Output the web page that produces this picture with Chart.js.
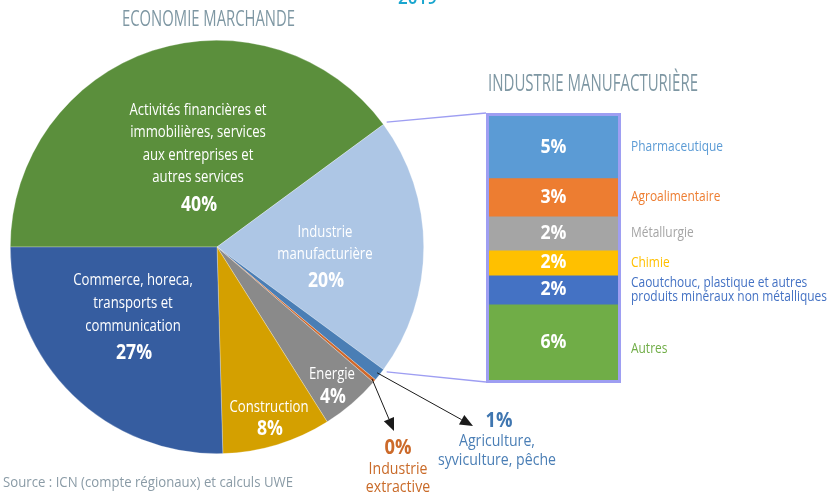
<!DOCTYPE html>
<html><head><meta charset="utf-8">
<script src="https://cdn.jsdelivr.net/npm/chart.js@4"></script>
<style>body{margin:0;background:#fff}#wrap{position:relative;width:830px;height:495px}canvas{position:absolute;left:0;top:0}</style>
</head><body>
<div id="wrap"><canvas id="pie" width="830" height="495"></canvas><canvas id="bar" width="830" height="495"></canvas></div>
<script>
// ---- data ----
const pieCategories = ['Activités financières et immobilières, services aux entreprises et autres services','Industrie manufacturière','Agriculture, syviculture, pêche','Industrie extractive','Energie','Construction','Commerce, horeca, transports et communication'];
const pieValues = [39.9, 20.2, 1.0, 0.25, 4.7, 8.5, 25.45];
const pieLabels = ['40%','20%','1%','0%','4%','8%','27%'];
const barCategories = ['Pharmaceutique','Agroalimentaire','Métallurgie','Chimie','Caoutchouc, plastique et autres produits minéraux non métalliques','Autres'];
const barValues = [4.7, 2.88, 2.58, 1.89, 2.2, 5.75];
const barLabels = ['5%','3%','2%','2%','2%','6%'];

const pieColors = ['#5B8F3C','#ADC6E5','#4A7EB5','#D0682A','#8A8A8A','#D4A000','#365DA0'];
const barColors = ['#5B9BD5','#ED7D31','#A5A5A5','#FFC000','#4472C4','#70AD47'];
const FF = '"Open Sans", "Noto Sans", sans-serif';

function txt(ctx, s, x, y, font, color, align, sx, base) {
  ctx.save(); ctx.font = font; ctx.fillStyle = color; ctx.textBaseline = base || 'middle'; ctx.textAlign = 'left';
  const w = ctx.measureText(s).width * sx;
  const x0 = align === 'center' ? x - w / 2 : align === 'right' ? x - w : x;
  ctx.translate(x0, y); ctx.scale(sx, 1); ctx.fillText(s, 0, 0); ctx.restore();
}
function fit(ctx, s, font, target) { ctx.save(); ctx.font = font; const w = ctx.measureText(s).width; ctx.restore(); return target / w; }
function arrow(ctx, x1, y1, x2, y2) {
  const a = Math.atan2(y2 - y1, x2 - x1), L = 13, W = 5.5;
  ctx.save(); ctx.strokeStyle = '#1a1a1a'; ctx.fillStyle = '#1a1a1a'; ctx.lineWidth = 1;
  ctx.beginPath(); ctx.moveTo(x1, y1); ctx.lineTo(x2 - Math.cos(a) * L, y2 - Math.sin(a) * L); ctx.stroke();
  ctx.beginPath(); ctx.moveTo(x2, y2);
  ctx.lineTo(x2 - Math.cos(a) * L - Math.sin(a) * W, y2 - Math.sin(a) * L + Math.cos(a) * W);
  ctx.lineTo(x2 - Math.cos(a) * L + Math.sin(a) * W, y2 - Math.sin(a) * L - Math.cos(a) * W);
  ctx.closePath(); ctx.fill(); ctx.restore();
}

const pieText = {
  id: 'pieText',
  afterDraw(chart) {
    const ctx = chart.ctx;
    const arcs = chart.getDatasetMeta(0).data;
    const cx = arcs[0].x, cy = arcs[0].y;
    const fLab = '17px ' + FF, fPct = 'bold 22px ' + FF;
    const sLab = fit(ctx, 'Activités financières et', fLab, 137);
    const sPct = fit(ctx, '40%', fPct, 36);
    const blocks = [
      {i: 0, dx: -19, lines: ['Activités financières et', 'immobilières, services', 'aux entreprises et', 'autres services'], y0: -137, gap: 22.4, pg: 28},
      {i: 1, dx: 108, lines: ['Industrie', 'manufacturière'], y0: -15, gap: 22, pg: 27},
      {i: 6, dx: -84, lines: ['Commerce, horeca,', 'transports et', 'communication'], y0: 33, gap: 23, pg: 27},
      {i: 5, dx: 52, lines: ['Construction'], y0: 160, gap: 22, pg: 22},
      {i: 4, dx: 115, lines: ['Energie'], y0: 127, gap: 22, pg: 23}
    ];
    blocks.forEach(b => {
      let y = cy + b.y0;
      b.lines.forEach((l, k) => { if (k) y += b.gap; txt(ctx, l, cx + b.dx, y, fLab, '#ffffff', 'center', sLab); });
      y += b.pg;
      txt(ctx, pieLabels[b.i], cx + b.dx + 1, y, fPct, '#ffffff', 'center', sPct);
    });
    // titles
    const fT = '22px ' + FF;
    txt(ctx, 'ECONOMIE MARCHANDE', 122, 20, fT, '#7E97A3', 'left', fit(ctx, 'ECONOMIE MARCHANDE', fT, 173));
    const fT2 = '23px ' + FF;
    txt(ctx, 'INDUSTRIE MANUFACTURIÈRE', 488, 84, fT2, '#7E97A3', 'left', fit(ctx, 'INDUSTRIE MANUFACTURIÈRE', fT2, 210));
    const fY = '600 19px ' + FF;
    txt(ctx, '2019', 398, 3.5, fY, '#1AA6CF', 'left', fit(ctx, '2019', fY, 39), 'alphabetic');
    const fS = '15px ' + FF;
    txt(ctx, 'Source : ICN (compte régionaux) et calculs UWE', 3, 483, fS, '#8A9BA6', 'left', fit(ctx, 'Source : ICN (compte régionaux) et calculs UWE', fS, 290));
    // arrows from small slices
    const pt = (a, f) => { const m = (a.startAngle + a.endAngle) / 2; const r = a.outerRadius * f; return [a.x + Math.cos(m) * r, a.y + Math.sin(m) * r]; };
    const pA = pt(arcs[2], 0.985), pE = pt(arcs[3], 0.985);
    arrow(ctx, pA[0], pA[1], 473, 426);
    arrow(ctx, pE[0], pE[1], 394, 431);
    const fA = '16px ' + FF, sA = fit(ctx, 'syviculture, pêche', fA, 118);
    const fAP = 'bold 21px ' + FF, sAP = fit(ctx, '1%', fAP, 27);
    txt(ctx, pieLabels[2], 499, 421, fAP, '#3F76B0', 'center', sAP);
    txt(ctx, 'Agriculture,', 497, 441, fA, '#4A7EB5', 'center', sA);
    txt(ctx, 'syviculture, pêche', 497, 460, fA, '#4A7EB5', 'center', sA);
    txt(ctx, pieLabels[3], 398, 448, fAP, '#CC6A2A', 'center', sAP);
    txt(ctx, 'Industrie', 398, 469, fA, '#C96A28', 'center', sA);
    txt(ctx, 'extractive', 398, 487, fA, '#C96A28', 'center', sA);
  }
};

const pieChart = new Chart(document.getElementById('pie'), {
  type: 'pie',
  data: { labels: pieCategories, datasets: [{ data: pieValues, backgroundColor: pieColors, borderWidth: 0.6, borderColor: 'rgba(255,255,255,0.45)' }] },
  options: {
    responsive: false, animation: false, rotation: -90,
    layout: { padding: { left: 10, right: 406, top: 40, bottom: 41 } },
    plugins: { legend: { display: false }, tooltip: { enabled: false } }
  },
  plugins: [pieText]
});

const barText = {
  id: 'barText',
  beforeDatasetsDraw(chart) {
    const ctx = chart.ctx, a = chart.chartArea;
    // connectors from the manufacturing slice to the bar
    const arcs = pieChart.getDatasetMeta(0).data;
    const m = arcs[1], r = m.outerRadius + 4;
    ctx.save(); ctx.strokeStyle = '#9E9EF2'; ctx.lineWidth = 1.3;
    ctx.beginPath(); ctx.moveTo(m.x + Math.cos(m.startAngle) * r, m.y + Math.sin(m.startAngle) * r); ctx.lineTo(a.left - 3, a.top - 3);
    ctx.moveTo(m.x + Math.cos(m.endAngle) * r, m.y + Math.sin(m.endAngle) * r); ctx.lineTo(a.left - 3, a.bottom + 2); ctx.stroke();
    ctx.restore();
  },
  afterDraw(chart) {
    const ctx = chart.ctx, a = chart.chartArea;
    ctx.save(); ctx.strokeStyle = '#9E9EF2'; ctx.lineWidth = 3;
    ctx.strokeRect(a.left - 1.5, a.top - 1.5, a.right - a.left + 3, a.bottom - a.top + 3); ctx.restore();
    const fP = 'bold 20px ' + FF, sP = fit(ctx, '5%', fP, 26);
    const fL = '14px ' + FF, sL = fit(ctx, 'produits minéraux non métalliques', fL, 196);
    const cx = (a.left + a.right) / 2;
    barCategories.forEach((c, i) => {
      const el = chart.getDatasetMeta(i).data[0];
      const yc = (el.y + el.base) / 2;
      txt(ctx, barLabels[i], cx, yc, fP, '#ffffff', 'center', sP);
      if (i === 4) {
        txt(ctx, 'Caoutchouc, plastique et autres', 631, yc - 7, fL, barColors[i], 'left', sL);
        txt(ctx, 'produits minéraux non métalliques', 631, yc + 7, fL, barColors[i], 'left', sL);
      } else {
        txt(ctx, c, 631, yc + (i === 5 ? 7 : 0), fL, barColors[i], 'left', sL);
      }
    });
  }
};

new Chart(document.getElementById('bar'), {
  type: 'bar',
  data: {
    labels: ['Industrie manufacturière'],
    datasets: barCategories.map((c, i) => ({ label: c, data: [barValues[i]], backgroundColor: barColors[i], borderWidth: 0, categoryPercentage: 1, barPercentage: 1 }))
  },
  options: {
    responsive: false, animation: false,
    layout: { padding: { left: 489, right: 212, top: 116, bottom: 115 } },
    scales: {
      x: { display: false, stacked: true },
      y: { display: false, stacked: true, reverse: true, min: 0, max: barValues.reduce((s, v) => s + v, 0) }
    },
    plugins: { legend: { display: false }, tooltip: { enabled: false } }
  },
  plugins: [barText]
});
</script>
</body></html>
